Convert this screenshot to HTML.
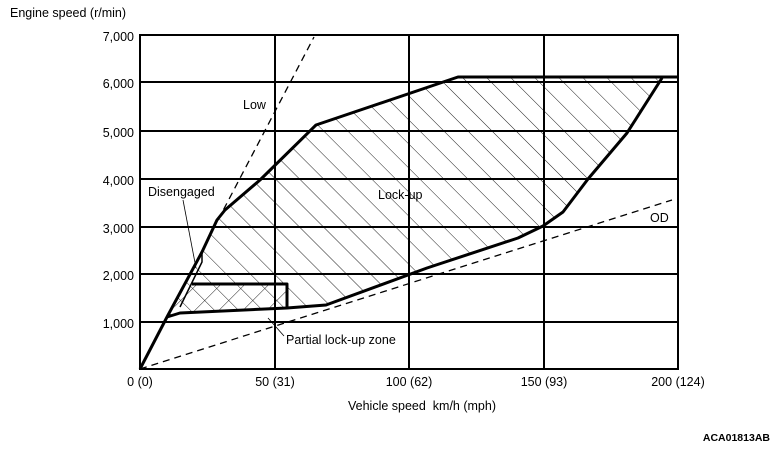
<!DOCTYPE html>
<html><head><style>
body{margin:0;background:#fff;}
svg{display:block;font-family:"Liberation Sans",Arial,sans-serif;}
</style></head><body>
<svg width="779" height="449" viewBox="0 0 779 449" xmlns="http://www.w3.org/2000/svg">
<defs>
<pattern id="h" patternUnits="userSpaceOnUse" width="17" height="17" patternTransform="rotate(-45)">
<line x1="0" y1="0" x2="0" y2="17" stroke="#222" stroke-width="1"/>
</pattern>
<pattern id="h2" patternUnits="userSpaceOnUse" width="17" height="17" patternTransform="rotate(45)">
<line x1="0" y1="0" x2="0" y2="17" stroke="#222" stroke-width="1"/>
</pattern>
<clipPath id="pc"><rect x="140" y="35" width="538" height="334"/></clipPath>
</defs>
<g clip-path="url(#pc)">
<polygon points="167,317 202,252 217,220 225,210 260,180 316,125 458,77 662,78 627,133 588,179 563,212 543,226 518,238 427,268 326,305 287,308 180,313" fill="url(#h)"/>
<polygon points="192,284 287,284 287,308 180,313 170,315 178,300" fill="url(#h2)"/>
</g>
<g stroke="#000" stroke-width="2" fill="none">
<rect x="140" y="35" width="538" height="334"/>
<line x1="275" y1="35" x2="275" y2="369"/>
<line x1="409" y1="35" x2="409" y2="369"/>
<line x1="544" y1="35" x2="544" y2="369"/>
<line x1="140" y1="82" x2="678" y2="82"/>
<line x1="140" y1="131" x2="678" y2="131"/>
<line x1="140" y1="179" x2="678" y2="179"/>
<line x1="140" y1="227" x2="678" y2="227"/>
<line x1="140" y1="274" x2="678" y2="274"/>
<line x1="140" y1="322" x2="678" y2="322"/>
</g>
<g stroke="#000" stroke-width="1.3" fill="none" stroke-dasharray="7,5">
<line x1="140" y1="369" x2="314" y2="37"/>
<line x1="140" y1="369" x2="672" y2="200"/>
</g>
<g stroke="#000" stroke-width="3" fill="none" stroke-linejoin="round">
<polyline points="140,369 167,317 202,252 217,220 225,210 260,180 316,125 458,77 678,77"/>
<polyline points="662,78 627,133 588,179 563,212 543,226 518,238 427,268 326,305 287,308 180,313 167,317"/>
<polyline points="192,284 287,284 287,308"/>
<polyline points="202,252 202,262 180,307" stroke-width="1.5"/>
</g>
<g stroke="#000" stroke-width="0.8">
<line x1="183" y1="200" x2="196" y2="268"/>
<line x1="268" y1="318" x2="284" y2="336"/>
</g>
<g font-size="12.5" fill="#000">
<text x="10" y="17">Engine speed (r/min)</text>
<g text-anchor="end">
<text x="134" y="41">7,000</text>
<text x="134" y="88">6,000</text>
<text x="134" y="137">5,000</text>
<text x="134" y="185">4,000</text>
<text x="134" y="233">3,000</text>
<text x="134" y="280">2,000</text>
<text x="134" y="328">1,000</text>
</g>
<g text-anchor="middle">
<text x="140" y="386">0 (0)</text>
<text x="275" y="386">50 (31)</text>
<text x="409" y="386">100 (62)</text>
<text x="544" y="386">150 (93)</text>
<text x="678" y="386">200 (124)</text>
</g>
<text x="348" y="410" xml:space="preserve">Vehicle speed  km/h (mph)</text>
<text x="243" y="109">Low</text>
<text x="148" y="196">Disengaged</text>
<text x="378" y="199">Lock-up</text>
<text x="650" y="222">OD</text>
<text x="286" y="344">Partial lock-up zone</text>
<text x="770" y="441" text-anchor="end" font-size="10.5" font-weight="bold">ACA01813AB</text>
</g>
</svg>
</body></html>
